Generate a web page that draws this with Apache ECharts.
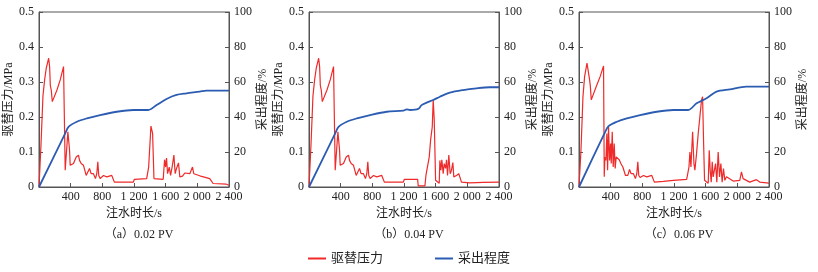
<!DOCTYPE html>
<html>
<head>
<meta charset="utf-8">
<script src="https://cdn.jsdelivr.net/npm/echarts@6/dist/echarts.min.js"></script>
<style>
  html, body { margin: 0; padding: 0; background: #fff; }
  #chart { width: 818px; height: 272px; }
</style>
</head>
<body>
<div id="chart"></div>
<script>
var panelTitles = ['（a）0.02 PV', '（b）0.04 PV', '（c）0.06 PV'];
var seriesNames = ['驱替压力', '采出程度'];

// 驱替压力 (MPa) vs 注水时长 (s)
var pressureA = [[0,0],[25,0.12],[50,0.26],[71,0.306],[92,0.34],[122,0.368],[134,0.344],[143,0.29],[155,0.277],
  [168,0.244],[185,0.249],[227,0.277],[268,0.306],[310,0.344],[319,0.344],[331,0.048],[344,0.043],[365,0.158],
  [373,0.163],[386,0.105],[394,0.062],[436,0.067],[470,0.086],[499,0.091],[512,0.076],[533,0.067],[562,0.062],
  [596,0.033],[617,0.033],[638,0.053],[659,0.038],[688,0.038],[713,0.024],[730,0.038],[743,0.072],[755,0.033],
  [772,0.024],[814,0.033],[856,0.029],[919,0.033],[952,0.014],[1192,0.014],[1204,0.022],[1360,0.024],
  [1385,0.057],[1414,0.174],[1435,0.153],[1452,0.024],[1569,0.022],[1586,0.078],[1599,0.057],[1611,0.083],
  [1624,0.038],[1645,0.057],[1662,0.033],[1683,0.059],[1704,0.091],[1720,0.038],[1737,0.053],[1762,0.069],
  [1779,0.029],[1813,0.031],[1842,0.04],[1905,0.038],[1939,0.057],[1955,0.038],[2031,0.032],[2157,0.024],
  [2199,0.01],[2367,0.008],[2400,0.005]];
var pressureB = [[0,0],[25,0.12],[50,0.26],[71,0.306],[92,0.34],[122,0.368],[134,0.344],[143,0.29],[155,0.277],
  [168,0.244],[185,0.249],[227,0.277],[268,0.306],[310,0.344],[319,0.344],[331,0.048],[344,0.043],[365,0.158],
  [373,0.163],[386,0.105],[394,0.062],[436,0.067],[470,0.086],[499,0.091],[512,0.076],[533,0.067],[562,0.062],
  [596,0.033],[617,0.033],[638,0.053],[659,0.038],[688,0.038],[713,0.024],[730,0.038],[743,0.072],[755,0.033],
  [772,0.024],[814,0.033],[856,0.029],[919,0.033],[952,0.014],[1192,0.014],[1204,0.022],[1372,0.022],
  [1380,0.003],[1464,0.003],[1477,0.033],[1498,0.038],[1519,0.086],[1536,0.134],[1557,0.172],[1569,0.249],
  [1582,0.191],[1599,0.019],[1645,0.011],[1653,0.076],[1666,0.048],[1678,0.078],[1695,0.038],[1708,0.067],
  [1725,0.053],[1737,0.078],[1750,0.033],[1766,0.091],[1783,0.038],[1800,0.048],[1817,0.07],[1829,0.029],
  [1863,0.033],[1892,0.038],[1913,0.041],[1926,0.014],[2031,0.012],[2200,0.013],[2400,0.014]];
var pressureC = [[0,0],[25,0.105],[50,0.258],[71,0.316],[101,0.354],[122,0.357],[134,0.306],[143,0.289],
  [155,0.249],[176,0.253],[218,0.287],[268,0.316],[310,0.346],[319,0.029],[327,0.086],[340,0.076],[352,0.153],
  [361,0.048],[373,0.172],[386,0.076],[399,0.124],[407,0.067],[420,0.158],[432,0.057],[445,0.124],[457,0.053],
  [470,0.086],[491,0.091],[508,0.078],[529,0.067],[554,0.057],[587,0.033],[617,0.033],[638,0.05],[659,0.038],
  [688,0.038],[713,0.024],[730,0.038],[743,0.072],[755,0.033],[772,0.027],[814,0.033],[856,0.029],[919,0.033],
  [952,0.014],[1066,0.016],[1192,0.019],[1360,0.022],[1389,0.057],[1401,0.1],[1414,0.057],[1435,0.158],
  [1452,0.067],[1464,0.048],[1485,0.096],[1506,0.153],[1527,0.201],[1548,0.249],[1561,0.258],[1574,0.124],
  [1586,0.019],[1632,0.011],[1645,0.105],[1657,0.048],[1670,0.014],[1683,0.072],[1695,0.029],[1725,0.067],
  [1741,0.014],[1758,0.1],[1775,0.029],[1792,0.067],[1808,0.014],[1825,0.053],[1842,0.019],[1863,0.029],
  [1947,0.017],[2031,0.019],[2052,0.043],[2073,0.024],[2157,0.014],[2241,0.021],[2283,0.014],[2400,0.011]];

// 采出程度 (%) vs 注水时长 (s)
var recoveryA = [[0,0],[331,30.6],[373,34.4],[478,37.3],[604,39.2],[772,41.1],[982,43],[1192,44],[1380,44],
  [1485,46.8],[1611,50.3],[1737,52.6],[1863,53.5],[2031,54.5],[2115,55.1],[2400,55.1]];
var recoveryB = [[0,0],[331,30.6],[373,34.4],[478,37.3],[604,39.2],[772,41.1],[982,43],[1192,43.6],[1234,44.4],
  [1276,44],[1380,44.6],[1422,46.8],[1485,48.2],[1569,49.7],[1653,51.6],[1779,53.9],[1947,55.4],[2115,56.4],
  [2283,57],[2400,57]];
var recoveryC = [[0,0],[331,31.5],[373,34.8],[478,37.3],[604,39.2],[772,41.1],[982,43],[1192,44],[1380,44],
  [1485,47.8],[1611,50.7],[1737,54.5],[1905,55.8],[2115,57.4],[2400,57.4]];

var pressureData = [pressureA, pressureB, pressureC];
var recoveryData = [recoveryA, recoveryB, recoveryC];

var fontFamily = '"Liberation Serif", "Noto Sans CJK SC", serif';
var axisColor = '#555';
var textColor = '#222';
var red = '#ee2a2a';
var blue = '#2b5cb2';

var chart = echarts.init(document.getElementById('chart'));

var grids = [], xAxes = [], yAxes = [], series = [], titles = [];
for (var i = 0; i < 3; i++) {
  var left = 39 + i * 270;
  grids.push({
    left: left, top: 12, width: 190, height: 175,
    show: true, borderColor: axisColor, borderWidth: 1, backgroundColor: 'transparent'
  });
  xAxes.push({
    gridIndex: i, type: 'value', min: 0, max: 2400, interval: 400,
    name: '注水时长/s', nameLocation: 'middle', nameGap: 21,
    nameTextStyle: { fontFamily: fontFamily, fontSize: 12, color: textColor },
    axisLine: { lineStyle: { color: axisColor } },
    axisTick: { inside: true, length: 4, lineStyle: { color: axisColor } },
    axisLabel: {
      showMinLabel: false, margin: 4, fontFamily: fontFamily, fontSize: 12, color: textColor,
      formatter: function (v) {
        return v >= 1000 ? Math.floor(v / 1000) + ' ' + String(v % 1000).padStart(3, '0') : String(v);
      }
    },
    splitLine: { show: false }
  });
  yAxes.push({
    gridIndex: i, type: 'value', min: 0, max: 0.5, interval: 0.1, position: 'left',
    name: '驱替压力/MPa', nameLocation: 'middle', nameGap: 24, nameRotate: 90,
    nameTextStyle: { fontFamily: fontFamily, fontSize: 12, color: textColor },
    axisLine: { show: true, lineStyle: { color: axisColor } },
    axisTick: { show: true, inside: true, length: 4, lineStyle: { color: axisColor } },
    axisLabel: { margin: 5, fontFamily: fontFamily, fontSize: 12, color: textColor },
    splitLine: { show: false }
  });
  yAxes.push({
    gridIndex: i, type: 'value', min: 0, max: 100, interval: 20, position: 'right',
    name: '采出程度/%', nameLocation: 'middle', nameGap: 28, nameRotate: 90,
    nameTextStyle: { fontFamily: fontFamily, fontSize: 12, color: textColor },
    axisLine: { show: true, lineStyle: { color: axisColor } },
    axisTick: { show: true, inside: true, length: 4, lineStyle: { color: axisColor } },
    axisLabel: { margin: 5, fontFamily: fontFamily, fontSize: 12, color: textColor },
    splitLine: { show: false }
  });
  series.push({
    name: seriesNames[0], type: 'line', xAxisIndex: i, yAxisIndex: i * 2,
    data: pressureData[i], symbol: 'none', animation: false,
    lineStyle: { color: red, width: 1.2 }, itemStyle: { color: red }
  });
  series.push({
    name: seriesNames[1], type: 'line', xAxisIndex: i, yAxisIndex: i * 2 + 1,
    data: recoveryData[i], symbol: 'none', smooth: 0.3, animation: false,
    lineStyle: { color: blue, width: 1.8 }, itemStyle: { color: blue }
  });
  titles.push({
    text: panelTitles[i], left: left + 95, top: 224, textAlign: 'center',
    textStyle: { fontFamily: fontFamily, fontSize: 12, fontWeight: 'normal', color: textColor }
  });
}

var option = {
  backgroundColor: '#fff',
  animation: false,
  title: titles,
  legend: {
    data: seriesNames, bottom: 2, left: 'center', itemGap: 52,
    itemWidth: 18, itemHeight: 2, icon: 'rect',
    textStyle: { fontFamily: fontFamily, fontSize: 13, color: textColor }
  },
  grid: grids,
  xAxis: xAxes,
  yAxis: yAxes,
  series: series
};
chart.setOption(option);
</script>
</body>
</html>
